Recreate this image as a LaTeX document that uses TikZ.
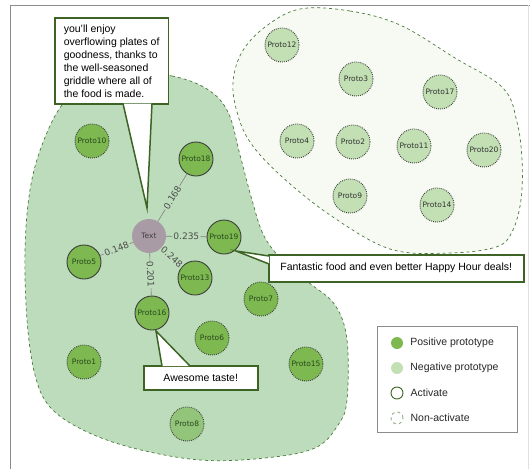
\documentclass[tikz,border=0pt]{standalone}
\usepackage{fontspec}
\setmainfont{Liberation Sans}
\newfontfamily\protofont{DejaVu Sans}
\usetikzlibrary{positioning,calc}

\definecolor{posfill}{HTML}{7DB950}
\definecolor{negfill}{HTML}{C3E0B4}
\definecolor{blobfill}{HTML}{BDDCBB}
\definecolor{palefill}{HTML}{F6FAF2}
\definecolor{blobline}{HTML}{4C7A3C}
\definecolor{bubblecol}{HTML}{3D6424}
\definecolor{textgray}{HTML}{A99BA5}
\definecolor{ringgray}{HTML}{3C3C3C}

\begin{document}
\begin{tikzpicture}[
        x=1pt, y=-1pt,
        proto/.style={circle, minimum size=34pt, inner sep=0pt,
            font=\protofont\fontsize{7.5}{9}\selectfont, text=black!80},
        posproto/.style={proto, fill=posfill, text={rgb,255:red,40;green,70;blue,30}},
        negproto/.style={proto, fill=negfill},
        act/.style={draw=ringgray, line width=0.9pt},
        nonact/.style={draw=ringgray, line width=0.9pt, dash pattern=on 0.9pt off 1.1pt},
        link/.style={draw=black!50, line width=0.6pt},
        wlabel/.style={sloped, fill=blobfill, inner sep=1pt, text=black!70,
            font=\protofont\fontsize{9}{10}\selectfont},
        bubble/.style={draw=bubblecol, line width=1.5pt, fill=white, inner sep=0pt,
            font=\fontsize{10.5}{13}\selectfont},
        bubbleline/.style={draw=bubblecol, line width=1.5pt, fill=white, line join=miter},
        legdot/.style={circle, minimum size=12pt, inner sep=0pt},
        legtext/.style={inner sep=0pt, font=\fontsize{10.5}{12}\selectfont, text=black!85}
    ]
    \useasboundingbox (0,0) rectangle (530,469);
    % frame
    \draw[black!45, line width=1pt] (10,469) -- (10,5) -- (530,5);
    \draw[black!12, line width=1pt] (528,5) -- (528,469);

    % clusters
    \draw[blobline, fill=blobfill, dashed, line width=0.7pt] plot[smooth cycle, tension=0.6] coordinates {
        (130,74) (172,76) (207,89) (228,112) (240,155) (252,200) (264,236) (284,262)
        (308,282) (335,305) (347,340) (347,400) (338,425) (315,448) (265,458) (200,460)
        (133,448) (83,430) (50,407) (35,375) (27,320) (25,250) (30,190) (42,145)
        (62,105) (90,83)};
    \draw[blobline, fill=palefill, dashed, line width=0.7pt] plot[smooth cycle, tension=0.6] coordinates {
        (300,9) (350,11) (400,25) (455,58) (503,88) (517,122) (522,160) (521,200)
        (512,232) (496,247) (450,253) (390,249) (330,215) (280,175) (250,142)
        (237,112) (233,82) (242,52) (265,27)};

    % negative prototypes
    \node[negproto, nonact] (p12) at (282,45) {Proto12};
    \node[negproto, nonact] (p3) at (356,79) {Proto3};
    \node[negproto, nonact] (p17) at (440,92) {Proto17};
    \node[negproto, nonact] (p4) at (297,141) {Proto4};
    \node[negproto, nonact] (p2) at (353,142) {Proto2};
    \node[negproto, nonact] (p11) at (414,146) {Proto11};
    \node[negproto, nonact] (p20) at (484,150) {Proto20};
    \node[negproto, nonact] (p9) at (350,196) {Proto9};
    \node[negproto, nonact] (p14) at (437,205) {Proto14};

    % positive prototypes
    \node[proto, fill=textgray, text=black!75] (txt) at (149,236) {Text};
    \node[posproto, nonact] (p10) at (92,141) {Proto10};
    \node[posproto, act] (p18) at (196,159) {Proto18};
    \node[posproto, act] (p19) at (224,237) {Proto19};
    \node[posproto, act] (p5) at (84,262) {Proto5};
    \node[posproto, act] (p13) at (195,278) {Proto13};
    \node[posproto, act] (p16) at (152,313) {Proto16};
    \node[posproto, nonact] (p7) at (261,299) {Proto7};
    \node[posproto, nonact] (p6) at (212,338) {Proto6};
    \node[posproto, nonact] (p1) at (84,362) {Proto1};
    \node[posproto, nonact] (p15) at (306,364) {Proto15};
    \node[posproto, nonact, fill={rgb,255:red,146;green,197;blue,122}] (p8) at (187,424) {Proto8};

    % similarities
    \draw[link] (txt) -- node[wlabel] {0.168} (p18);
    \draw[link] (txt) -- node[wlabel] {0.235} (p19);
    \draw[link] (txt) -- node[wlabel] {0.248} (p13);
    \draw[link] (txt) -- node[wlabel] {0.201} (p16);
    \draw[link] (txt) -- node[wlabel] {0.148} (p5);

    % reviews
    \node[bubble, anchor=north west, align=left, inner xsep=9pt, minimum height=86pt] (say1) at (54,17)
        {you'll enjoy\\overflowing plates of\\goodness, thanks to\\the well-seasoned\\griddle where all of\\the food is made.};
    \coordinate (tip1) at (147,208);
    \draw[bubbleline] ($(say1.south west)+(69,-1)$) -- (tip1) -- ($(say1.south west)+(98,-1)$);

    \node[bubble, anchor=north west, minimum width=255pt, minimum height=27pt] (say2) at (268,254)
        {Fantastic food and even better Happy Hour deals!};
    \coordinate (tip2) at (236,251);
    \draw[bubbleline] ($(say2.north west)+(1,2)$) -- (tip2) -- ($(say2.north west)+(1,10)$);

    \node[bubble, anchor=north west, minimum width=114pt, minimum height=24pt] (say3) at (143,365)
        {Awesome taste!};
    \coordinate (tip3) at (156,331);
    \draw[bubbleline] ($(say3.north west)+(19,1)$) -- (tip3) -- ($(say3.north west)+(47,1)$);

    % legend
    \draw[black!45, line width=1pt] (377,326) rectangle (517,432);
    \node[legdot, fill=posfill] (l1) at (397,343) {};
    \node[legtext, right=7pt of l1] {Positive prototype};
    \node[legdot, fill=negfill] (l2) at (397,368) {};
    \node[legtext, right=7pt of l2] {Negative prototype};
    \node[legdot, draw=bubblecol, line width=0.9pt] (l3) at (397,393) {};
    \node[legtext, right=7pt of l3] {Activate};
    \node[legdot, draw=blobline!60, line width=0.9pt, dashed] (l4) at (397,418) {};
    \node[legtext, right=7pt of l4] {Non-activate};
\end{tikzpicture}
\end{document}
